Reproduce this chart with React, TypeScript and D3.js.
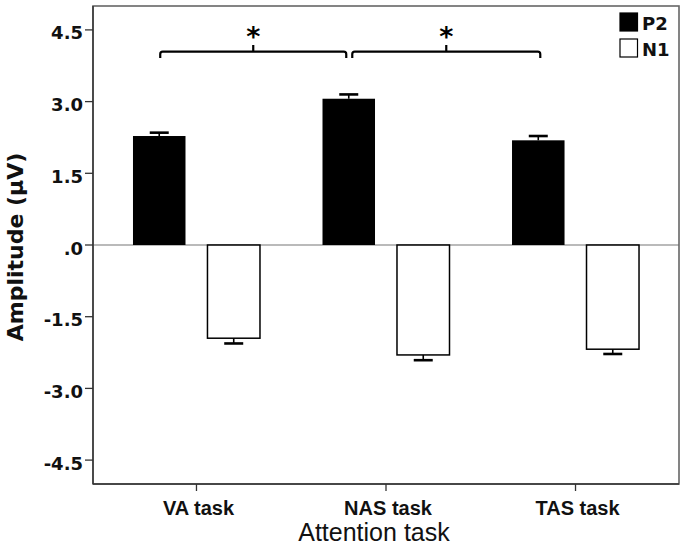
import React from "react";
import * as d3 from "d3";

const categories = ["VA task", "NAS task", "TAS task"];
const seriesNames = ["P2", "N1"];
const p2Values = [2.28, 3.06, 2.19];
const p2Errors = [0.07, 0.09, 0.09];
const n1Values = [-1.95, -2.3, -2.18];
const n1Errors = [0.11, 0.11, 0.1];
const yTicks = [4.5, 3.0, 1.5, 0, -1.5, -3.0, -4.5];
const yTickLabels = ["4.5", "3.0", "1.5", ".0", "-1.5", "-3.0", "-4.5"];
const brackets = [
  { from: 0, to: 1, label: "*" },
  { from: 1, to: 2, label: "*" },
];

const W = 686;
const H = 551;
const left = 93;
const right = 679;
const top = 6;
const bottom = 484;

export default function App() {
  const y = d3.scaleLinear().domain([-5, 5]).range([bottom, top]);
  const x = d3.scalePoint<string>().domain(categories).range([left, right]).padding(0.546);
  const inner = d3.scaleBand<string>().domain(seriesNames).range([-63.5, 63.5]).paddingInner(0.295);
  const bw = inner.bandwidth();
  const series = [
    { name: "P2", values: p2Values, errors: p2Errors, fill: "#000" },
    { name: "N1", values: n1Values, errors: n1Errors, fill: "#fff" },
  ];
  const p2Center = (i: number) => (x(categories[i]) as number) + (inner("P2") as number) + bw / 2;
  const tickFont = "'DejaVu Sans', Verdana, sans-serif";
  const bracketY = 51.7;
  return (
    <svg width={W} height={H} style={{ position: "absolute", left: 0, top: 0, background: "#fff" }}>
      <rect x={0} y={0} width={W} height={H} fill="#fff" />
      {/* zero line */}
      <line x1={left} x2={right} y1={y(0)} y2={y(0)} stroke="#777" strokeWidth={1.2} />
      {/* bars */}
      {series.map((s) =>
        s.values.map((v, i) => {
          const bx = (x(categories[i]) as number) + (inner(s.name) as number);
          const y0 = y(Math.max(0, v));
          const y1 = y(Math.min(0, v));
          const cx = bx + bw / 2;
          const errEnd = v >= 0 ? y(v + s.errors[i]) : y(v - s.errors[i]);
          const barEdge = v >= 0 ? y0 : y1;
          return (
            <g key={s.name + i}>
              <rect
                x={bx}
                y={y0}
                width={bw}
                height={y1 - y0}
                fill={s.fill}
                stroke="#000"
                strokeWidth={s.fill === "#fff" ? 1.5 : 0}
              />
              <line x1={cx} x2={cx} y1={barEdge} y2={errEnd} stroke="#000" strokeWidth={1.6} />
              <line x1={cx - 9.5} x2={cx + 9.5} y1={errEnd} y2={errEnd} stroke="#000" strokeWidth={2.6} />
            </g>
          );
        })
      )}
      {/* frame */}
      <rect x={left} y={top} width={right - left} height={bottom - top} fill="none" stroke="#666" strokeWidth={1.6} />
      <line x1={left} x2={left} y1={top} y2={bottom} stroke="#333" strokeWidth={1.4} />
      <line x1={left} x2={right} y1={bottom} y2={bottom} stroke="#333" strokeWidth={1.4} />
      {/* y ticks */}
      {yTicks.map((t, i) => (
        <g key={"yt" + i}>
          <line x1={left - 8} x2={left} y1={y(t)} y2={y(t)} stroke="#333" strokeWidth={1.3} />
          <text
            x={83}
            y={y(t) + 9.5}
            textAnchor="end"
            fontFamily={tickFont}
            fontWeight="bold"
            fontSize={18}
            fill="#111"
          >
            {yTickLabels[i]}
          </text>
        </g>
      ))}
      {/* x ticks */}
      {categories.map((c) => (
        <g key={c}>
          <line x1={x(c) as number} x2={x(c) as number} y1={bottom} y2={bottom + 7} stroke="#333" strokeWidth={1.3} />
          <text
            x={(x(c) as number) + 2}
            y={515}
            textAnchor="middle"
            fontFamily="'Liberation Sans', Arial, sans-serif"
            fontWeight="bold"
            fontSize={20}
            fill="#111"
          >
            {c}
          </text>
        </g>
      ))}
      {/* axis titles */}
      <text
        x={374}
        y={541}
        textAnchor="middle"
        fontFamily="'Liberation Sans', Arial, sans-serif"
        fontSize={25}
        fill="#111"
      >
        Attention task
      </text>
      <text
        transform={`translate(23,247) rotate(-90)`}
        textAnchor="middle"
        fontFamily={tickFont}
        fontWeight="bold"
        fontSize={22}
        fill="#111"
      >
        Amplitude (μV)
      </text>
      {/* significance brackets */}
      {brackets.map((b, i) => {
        const x1 = p2Center(b.from) + (i === 0 ? 1 : 3.5);
        const x2 = p2Center(b.to) - (i === 0 ? 2.5 : -2);
        const mid = (x1 + x2) / 2;
        const d = `M${x1},58 L${x1},${bracketY + 2.5} Q${x1},${bracketY} ${x1 + 2.5},${bracketY} L${x2 - 2.5},${bracketY} Q${x2},${bracketY} ${x2},${bracketY + 2.5} L${x2},58 M${mid},${bracketY} L${mid},45`;
        return (
          <g key={"br" + i}>
            <path d={d} fill="none" stroke="#000" strokeWidth={2.2} />
            <text x={mid} y={46} textAnchor="middle" fontFamily={tickFont} fontWeight="bold" fontSize={27} fill="#000">
              {b.label}
            </text>
          </g>
        );
      })}
      {/* legend */}
      {series.map((s, i) => (
        <g key={"lg" + s.name}>
          <rect x={620} y={13 + i * 26} width={17.5} height={18} fill={s.fill} stroke="#000" strokeWidth={1.2} />
          <text x={642} y={30 + i * 25.5} fontFamily={tickFont} fontWeight="bold" fontSize={18} fill="#111">
            {s.name}
          </text>
        </g>
      ))}
    </svg>
  );
}
